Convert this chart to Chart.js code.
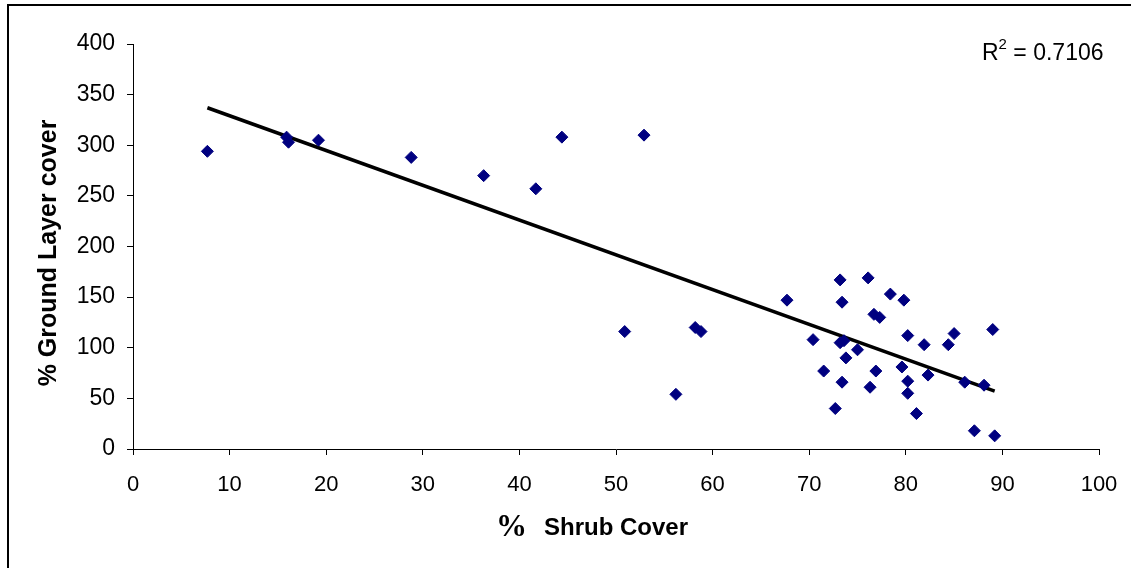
<!DOCTYPE html>
<html>
<head>
<meta charset="utf-8">
<title>Shrub cover vs ground layer cover</title>
<script src="https://cdn.jsdelivr.net/npm/chart.js@4/dist/chart.umd.min.js"></script>
<style>
  body { margin: 0; background: #fff; }
  #wrap { position: relative; width: 1131px; height: 568px; overflow: hidden; }
  #frame { position: absolute; left: 7px; top: 4px; width: 1200px; height: 700px;
           border-left: 2px solid #000; border-top: 2px solid #000; }
  #chart { position: absolute; left: 0; top: 0; }
</style>
</head>
<body>
<div id="wrap">
  <div id="frame"></div>
  <canvas id="chart" width="1131" height="568"></canvas>
</div>
<script>
// % shrub cover (x) and % ground layer cover (y) per plot
var shrubCover = [7.7, 15.9, 16.1, 19.2, 28.8, 36.3, 41.7, 44.4, 50.9, 52.9,
  56.2, 58.2, 58.8, 67.7, 70.4, 71.5, 72.7, 73.2, 73.2, 73.4,
  73.4, 73.6, 73.8, 75.0, 76.1, 76.3, 76.7, 76.9, 77.3, 78.4,
  79.6, 79.8, 80.2, 80.2, 80.2, 81.1, 81.9, 82.3, 84.4, 85.0,
  86.1, 87.1, 88.1, 89.0, 89.2];
var groundCover = [294, 308, 303, 305, 288, 270, 257, 308, 116, 310,
  54, 120, 116, 147, 108, 77, 40, 167, 105, 145,
  66, 107, 90, 98, 169, 61, 133, 77, 130, 153,
  81, 147, 112, 67, 55, 35, 103, 73, 103, 114,
  66, 18, 63, 118, 13];

// linear trend line coefficients and fit
var trendSlope = -3.435;
var trendIntercept = 363.5;
var rSquared = '0.7106';

var xTicks = [0, 10, 20, 30, 40, 50, 60, 70, 80, 90, 100];
var yTicks = [0, 50, 100, 150, 200, 250, 300, 350, 400];

var points = shrubCover.map(function(x, i) {
  return { x: x, y: groundCover[i] };
});

var xMin = Math.min.apply(null, shrubCover);
var xMax = Math.max.apply(null, shrubCover);
var trend = [xMin, xMax].map(function(x) {
  return { x: x, y: trendIntercept + trendSlope * x };
});

var fontFamily = '"Liberation Sans", Arial, sans-serif';

//axis titles and R squared label
var labelsPlugin = {
  id: 'labels',
  afterDraw: function(chart) {
    var ctx = chart.ctx;
    ctx.save();
    ctx.fillStyle = '#000';

    // y axis title, rotated
    ctx.translate(56, 253);
    ctx.rotate(-Math.PI / 2);
    ctx.font = 'bold 25px ' + fontFamily;
    ctx.textAlign = 'center';
    ctx.textBaseline = 'alphabetic';
    ctx.fillText('% Ground Layer cover', 0, 0);
    ctx.setTransform(1, 0, 0, 1, 0, 0);

    // x axis title: serif percent sign then the words
    ctx.textAlign = 'left';
    ctx.font = 'bold 31px "Liberation Serif", "Times New Roman", serif';
    ctx.fillText('%', 496, 536);
    ctx.font = 'bold 24px ' + fontFamily;
    ctx.fillText('Shrub Cover', 544, 535);

    // R squared
    var x = 982;
    ctx.font = '23px ' + fontFamily;
    ctx.fillText('R', x, 60);
    x += ctx.measureText('R').width;
    ctx.font = '15px ' + fontFamily;
    ctx.fillText('2', x, 49);
    x += ctx.measureText('2').width;
    ctx.font = '23px ' + fontFamily;
    ctx.fillText(' = ' + rSquared, x, 60);
    ctx.restore();
  }
};

//create chart
var chart = new Chart(document.getElementById('chart'), {
  type: 'scatter',
  data: {
    datasets: [
      {
        label: 'Plots',
        data: points,
        pointStyle: 'rectRot',
        pointRadius: 6,
        pointBorderWidth: 1,
        backgroundColor: '#000080',
        borderColor: '#000080'
      },
      {
        label: 'Trend',
        type: 'line',
        data: trend,
        showLine: true,
        borderColor: '#000',
        borderWidth: 3.5,
        pointRadius: 0,
        fill: false
      }
    ]
  },
  options: {
    responsive: false,
    animation: false,
    layout: { padding: { left: 0, top: 44, right: 32, bottom: 0 } },
    plugins: {
      legend: { display: false },
      tooltip: { enabled: false }
    },
    scales: {
      x: {
        type: 'linear',
        min: 0,
        max: 100,
        afterFit: function(scale) {
          scale.height = 119;
          scale.paddingRight = 0;
        },
        afterBuildTicks: function(scale) {
          scale.ticks = xTicks.map(function(v) { return { value: v }; });
        },
        grid: { drawOnChartArea: false, tickLength: 6, color: '#000' },
        border: { color: '#000', width: 1 },
        ticks: { padding: 17, color: '#000', font: { family: fontFamily, size: 22 } }
      },
      y: {
        type: 'linear',
        min: 0,
        max: 400,
        afterFit: function(scale) { scale.width = 133; },
        afterBuildTicks: function(scale) {
          scale.ticks = yTicks.map(function(v) { return { value: v }; });
        },
        grid: { drawOnChartArea: false, tickLength: 6, color: '#000' },
        border: { color: '#000', width: 1 },
        ticks: { padding: 12, color: '#000', font: { family: fontFamily, size: 23 } }
      }
    }
  },
  plugins: [labelsPlugin]
});
</script>
</body>
</html>
